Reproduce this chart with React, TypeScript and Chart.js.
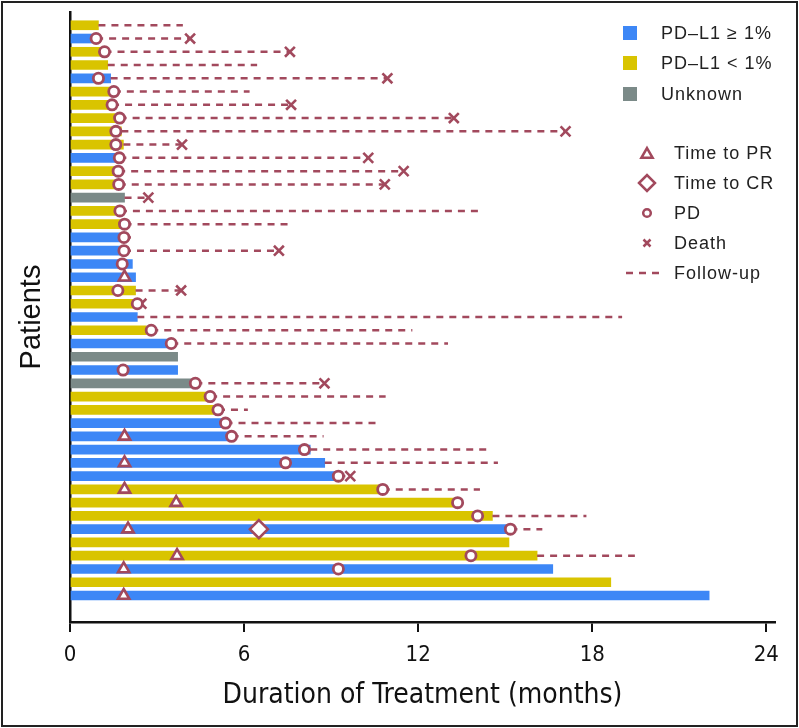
import React, { useEffect, useRef } from 'react';
import { Chart, registerables } from 'chart.js';

Chart.register(...registerables);

// ---- Data (rows listed top to bottom) ----
// B = PD-L1 >= 1%, Y = PD-L1 < 1%, G = Unknown
const patientGroups = [
  'Y', 'B', 'Y', 'Y', 'B', 'Y', 'Y', 'Y', 'Y', 'Y', 'B',
  'Y', 'Y', 'G', 'Y', 'Y', 'B', 'B', 'B', 'B', 'Y', 'Y',
  'B', 'Y', 'B', 'G', 'B', 'G', 'Y', 'Y', 'B', 'B', 'B',
  'B', 'B', 'Y', 'Y', 'Y', 'B', 'Y', 'Y', 'B', 'Y', 'B',
];
const treatmentMonths = [
  0.98, 0.8, 1.08, 1.3, 1.4, 1.43, 1.32, 1.55, 1.77, 1.84, 1.6,
  1.55, 1.55, 1.88, 1.55, 1.72, 1.72, 1.72, 2.15, 2.26, 2.26, 2.2,
  2.32, 2.63, 3.4, 3.71, 3.71, 4.21, 4.73, 5.0, 5.27, 5.47, 8.28,
  8.78, 9.13, 10.74, 13.3, 14.56, 15.13, 15.13, 16.1, 16.64, 18.64, 22.03,
];
const timeToPR = [
  null, null, null, null, null, null, null, null, null, null, null,
  null, null, null, null, null, null, null, null, 1.88, null, null,
  null, null, null, null, null, null, null, null, null, 1.88, null,
  1.88, null, 1.88, 3.66, null, 2.0, null, 3.69, 1.85, null, 1.85,
];
const timeToCR = [
  null, null, null, null, null, null, null, null, null, null, null,
  null, null, null, null, null, null, null, null, null, null, null,
  null, null, null, null, null, null, null, null, null, null, null,
  null, null, null, null, null, 6.51, null, null, null, null, null,
];
const timeToPD = [
  null, 0.9, 1.19, null, 0.98, 1.51, 1.45, 1.71, 1.58, 1.58, 1.7,
  1.66, 1.68, null, 1.72, 1.88, 1.86, 1.86, 1.8, null, 1.65, 2.32,
  null, 2.8, 3.49, null, 1.83, 4.32, 4.83, 5.1, 5.36, 5.57, 8.08,
  7.43, 9.25, 10.78, 13.36, 14.05, 15.18, null, 13.82, 9.25, null, null,
];
const timeToDeath = [
  null, 4.14, 7.58, null, 10.94, null, 7.62, 13.23, 17.08, 3.86, 10.28,
  11.5, 10.85, 2.7, null, null, null, 7.2, null, null, 3.83, 2.46,
  null, null, null, null, null, 8.77, null, null, null, null, null,
  null, 9.66, null, null, null, null, null, null, null, null, null,
];
const followUpEnd = [
  3.89, null, null, 6.45, null, 6.19, null, null, null, null, null,
  null, null, null, 14.25, 7.58, 2.22, null, null, null, null, null,
  19.03, 11.8, 13.03, null, null, null, 10.88, 6.13, 10.68, 8.74, 14.36,
  14.75, null, 14.13, null, 17.8, 16.28, null, 19.47, null, null, null,
];
const xTickValues = [0, 6, 12, 18, 24];
const groupLegendLabels = ['PD\u2013L1 \u2265 1%', 'PD\u2013L1 < 1%', 'Unknown'];
const eventLegendLabels = ['Time to PR', 'Time to CR', 'PD', 'Death', 'Follow-up'];
const xAxisTitle = 'Duration of Treatment (months)';
const yAxisTitle = 'Patients';

// ---- Styles ----
const GROUP_COLORS: Record<string, string> = { B: '#3d87f6', Y: '#d9c400', G: '#7b8a88' };
const GROUP_ORDER = ['B', 'Y', 'G'];
const MARK = '#a2495d';
const AXIS = '#111111';
const CONDENSED = "'DejaVu Sans Condensed', 'Liberation Sans Narrow', sans-serif";
const SANS = "'Liberation Sans', Arial, sans-serif";

function markerPoints(values: (number | null)[]) {
  const pts: { x: number; y: number }[] = [];
  values.forEach((v, i) => {
    if (v !== null) pts.push({ x: v, y: i + 1 });
  });
  return pts;
}

function buildDatasets() {
  const ds: any[] = [];
  const markerBase = {
    type: 'scatter',
    showLine: false,
    pointBorderColor: MARK,
    pointBackgroundColor: '#ffffff',
    pointBorderWidth: 2.6,
    pointHoverRadius: 0,
    order: 0,
  };
  ds.push({ ...markerBase, label: 'Time to PR', data: markerPoints(timeToPR), pointStyle: 'triangle', pointRadius: 6.5 });
  ds.push({ ...markerBase, label: 'Time to CR', data: markerPoints(timeToCR), pointStyle: 'rectRot', pointRadius: 9 });
  ds.push({ ...markerBase, label: 'PD', data: markerPoints(timeToPD), pointStyle: 'circle', pointRadius: 5.1, pointBorderWidth: 2.8 });
  ds.push({ ...markerBase, label: 'Death', data: markerPoints(timeToDeath), pointStyle: 'crossRot', pointRadius: 7, pointBorderWidth: 2.6 });

  patientGroups.forEach((_, i) => {
    const end = followUpEnd[i] ?? timeToDeath[i];
    if (end === null || end === undefined) return;
    const start = Math.max(treatmentMonths[i], timeToPD[i] ?? 0);
    if (end - start < 0.25) return;
    ds.push({
      type: 'line',
      label: 'Follow-up ' + (i + 1),
      data: [
        { x: start, y: i + 1 },
        { x: end, y: i + 1 },
      ],
      borderColor: MARK,
      borderWidth: 2.5,
      borderDash: [7, 6],
      pointRadius: 0,
      fill: false,
      order: 1,
    });
  });

  GROUP_ORDER.forEach((g) => {
    const data: { x: number; y: number }[] = [];
    patientGroups.forEach((gg, i) => {
      if (gg === g) data.push({ x: treatmentMonths[i], y: i + 1 });
    });
    ds.push({
      type: 'bar',
      label: g,
      indexAxis: 'y',
      data,
      backgroundColor: GROUP_COLORS[g],
      borderWidth: 0,
      barThickness: 9,
      grouped: false,
      order: 2,
    });
  });
  return ds;
}

function drawTriangle(ctx: CanvasRenderingContext2D, x: number, y: number, r: number) {
  ctx.beginPath();
  ctx.moveTo(x, y - r);
  ctx.lineTo(x + r * Math.sin((2 * Math.PI) / 3), y - r * Math.cos((2 * Math.PI) / 3));
  ctx.lineTo(x + r * Math.sin((4 * Math.PI) / 3), y - r * Math.cos((4 * Math.PI) / 3));
  ctx.closePath();
}

const legendPlugin = {
  id: 'swimmerLegend',
  beforeDraw(chart: any) {
    const ctx = chart.ctx;
    ctx.save();
    ctx.fillStyle = '#ffffff';
    ctx.fillRect(0, 0, chart.width, chart.height);
    ctx.restore();
  },
  afterDraw(chart: any) {
    const ctx: CanvasRenderingContext2D = chart.ctx;
    ctx.save();
    ctx.strokeStyle = '#222222';
    ctx.lineWidth = 2;
    ctx.strokeRect(2, 2, chart.width - 4, chart.height - 4);

    ctx.font = '18px ' + SANS;
    ctx.fillStyle = '#222222';
    ctx.textBaseline = 'middle';
    ctx.textAlign = 'left';
    try {
      (ctx as any).letterSpacing = '1px';
    } catch (e) {}

    const groupYs = [33, 63, 94];
    GROUP_ORDER.forEach((g, i) => {
      ctx.fillStyle = GROUP_COLORS[g];
      ctx.fillRect(623, groupYs[i] - 7, 14, 14);
      ctx.fillStyle = '#222222';
      ctx.fillText(groupLegendLabels[i], 661, groupYs[i] + 1);
    });

    const evYs = [153, 183, 213, 243, 273];
    const mx = 647;
    ctx.strokeStyle = MARK;
    ctx.fillStyle = '#ffffff';
    ctx.lineWidth = 2.5;
    drawTriangle(ctx, mx, evYs[0] + 1.5, 6.5);
    ctx.fill();
    ctx.stroke();
    ctx.beginPath();
    ctx.moveTo(mx - 8, evYs[1]);
    ctx.lineTo(mx, evYs[1] - 8);
    ctx.lineTo(mx + 8, evYs[1]);
    ctx.lineTo(mx, evYs[1] + 8);
    ctx.closePath();
    ctx.fill();
    ctx.stroke();
    ctx.beginPath();
    ctx.arc(mx, evYs[2], 3.8, 0, Math.PI * 2);
    ctx.fill();
    ctx.stroke();
    ctx.beginPath();
    ctx.moveTo(mx - 3.5, evYs[3] - 3.5);
    ctx.lineTo(mx + 3.5, evYs[3] + 3.5);
    ctx.moveTo(mx + 3.5, evYs[3] - 3.5);
    ctx.lineTo(mx - 3.5, evYs[3] + 3.5);
    ctx.stroke();
    ctx.beginPath();
    ctx.setLineDash([7, 6]);
    ctx.moveTo(626, evYs[4]);
    ctx.lineTo(663, evYs[4]);
    ctx.stroke();
    ctx.setLineDash([]);

    ctx.fillStyle = '#222222';
    eventLegendLabels.forEach((lab, i) => {
      ctx.fillText(lab, 674, evYs[i] + 1);
    });
    ctx.restore();
  },
};

export default function App() {
  const canvasRef = useRef<HTMLCanvasElement | null>(null);

  useEffect(() => {
    const canvas = canvasRef.current;
    if (!canvas) return;
    const chart = new Chart(canvas, {
      type: 'bar',
      data: { datasets: buildDatasets() as any },
      options: {
        animation: false,
        responsive: false,
        maintainAspectRatio: false,
        devicePixelRatio: 1,
        events: [],
        layout: { padding: { top: 12, right: 24, left: 0, bottom: 0 } },
        plugins: {
          legend: { display: false },
          tooltip: { enabled: false },
        },
        scales: {
          x: {
            type: 'linear',
            position: 'bottom',
            offset: false,
            min: 0,
            max: 24.3,
            afterFit: (scale: any) => {
              scale.height = 106;
            },
            afterBuildTicks: (scale: any) => {
              scale.ticks = xTickValues.map((v) => ({ value: v }));
            },
            ticks: {
              autoSkip: false,
              maxRotation: 0,
              padding: 10,
              color: AXIS,
              font: { family: CONDENSED, size: 22 },
              callback: (v: any) => String(v),
            },
            grid: {
              display: true,
              offset: false,
              drawOnChartArea: false,
              drawTicks: true,
              tickLength: 10,
              color: AXIS,
              lineWidth: 2,
            },
            border: { display: true, color: AXIS, width: 2.5 },
            title: {
              display: true,
              text: xAxisTitle,
              color: AXIS,
              font: { family: CONDENSED, size: 28 },
              padding: { top: 0, bottom: 15 },
            },
          },
          y: {
            type: 'linear',
            position: 'left',
            offset: false,
            min: 0,
            max: 46,
            reverse: true,
            afterFit: (scale: any) => {
              scale.width = 70;
            },
            ticks: { display: false },
            grid: { display: false, drawTicks: false, offset: false },
            border: { display: true, color: AXIS, width: 2.5 },
            title: {
              display: true,
              text: yAxisTitle,
              color: AXIS,
              font: { family: SANS, size: 29 },
              padding: { top: 15, bottom: 0 },
            },
          },
        },
      } as any,
      plugins: [legendPlugin],
    });
    return () => chart.destroy();
  }, []);

  return (
    <div style={{ position: 'absolute', left: 0, top: 0, width: 799, height: 728 }}>
      <canvas ref={canvasRef} width={799} height={728} style={{ display: 'block' }} />
    </div>
  );
}
